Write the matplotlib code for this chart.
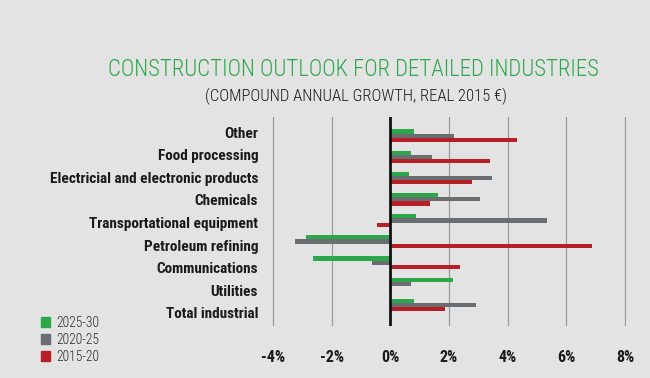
import matplotlib
matplotlib.use("Agg")
import matplotlib.pyplot as plt
from matplotlib.patches import Patch
import numpy as np

categories = ["Other", "Food processing", "Electricial and electronic products",
              "Chemicals", "Transportational equipment", "Petroleum refining",
              "Communications", "Utilities", "Total industrial"]
s2025_30 = [0.81, 0.71, 0.63, 1.64, 0.87, -2.88, -2.64, 2.12, 0.81]
s2020_25 = [2.16, 1.41, 3.47, 3.04, 5.34, -3.25, -0.61, 0.71, 2.93]
s2015_20 = [4.32, 3.41, 2.80, 1.34, -0.47, 6.87, 2.36, 0.06, 1.87]
series_names = ["2025-30", "2020-25", "2015-20"]
xticks = [-4, -2, 0, 2, 4, 6, 8]
xticklabels = ["-4%", "-2%", "0%", "2%", "4%", "6%", "8%"]

BG = "#e2e3e2"
GREEN = "#2ca84a"
GRAY = "#6b6e70"
RED = "#b71f26"
NARROW = ["Roboto Condensed", "DejaVu Sans"]

fig = plt.figure(figsize=(6.5, 3.78), dpi=100, facecolor=BG)
ax = fig.add_axes([0.4185, 0.1376, 0.5445, 0.5524])
ax.set_facecolor(BG)

y = np.arange(len(categories))
h = 0.2
ax.barh(y - h, s2025_30, height=h, color=GREEN, zorder=3)
ax.barh(y, s2020_25, height=h, color=GRAY, zorder=3)
ax.barh(y + h, s2015_20, height=h, color=RED, zorder=3)

ax.set_xlim(-4.03, 8.03)
ax.set_ylim(len(categories) - 1 + 0.99, -0.88)
for v in xticks:
    if v == 0:
        ax.axvline(v, color="#111111", lw=2.0, zorder=4)
    else:
        ax.axvline(v, color="#9a9a9a", lw=0.9, zorder=1)

for s in ax.spines.values():
    s.set_visible(False)

ax.set_xticks(xticks)
ax.set_xticklabels(xticklabels, fontfamily=NARROW, fontweight="bold", fontsize=11.5, color="#1a1a1a")
ax.tick_params(axis="x", length=0, pad=17)
# category labels in the original are spaced slightly wider than the bar groups
label_pos = np.linspace(-0.17, len(categories) - 1 + 0.37, len(categories))
ax.set_yticks(label_pos)
ax.set_yticklabels(categories, fontfamily=NARROW, fontweight="bold", fontsize=11, color="#1a1a1a")
ax.tick_params(axis="y", length=0, pad=10)

fig.text(0.543, 0.815, "CONSTRUCTION OUTLOOK FOR DETAILED INDUSTRIES", ha="center", va="center",
         fontfamily=NARROW, fontweight="light", fontsize=16.4, color=GREEN)
fig.text(0.548, 0.745, "(COMPOUND ANNUAL GROWTH, REAL 2015 €)", ha="center", va="center",
         fontfamily=NARROW, fontweight="light", fontsize=12, color="#1a1a1a")

handles = [Patch(color=c) for c in (GREEN, GRAY, RED)]
leg = fig.legend(handles, series_names, loc="upper left", bbox_to_anchor=(0.063, 0.165),
                 frameon=False, prop={"family": NARROW, "weight": "light", "size": 9.8},
                 handlelength=0.7, handleheight=0.7, handletextpad=0.4, labelspacing=0.22,
                 borderpad=0, borderaxespad=0)
for t in leg.get_texts():
    t.set_color("#2a2a2a")

fig.savefig("out.png", dpi=100, facecolor=BG)
